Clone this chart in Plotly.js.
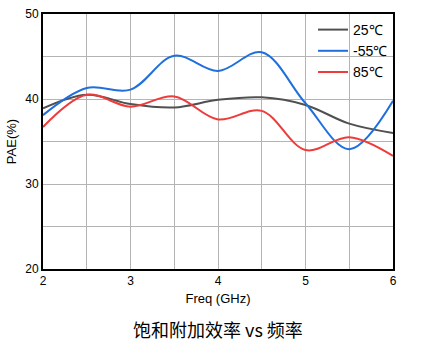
<!DOCTYPE html>
<html><head><meta charset="utf-8">
<script src="https://cdn.plot.ly/plotly-3.0.1.min.js"></script>
<style>body{margin:0;background:#fff}#c{width:425px;height:360px}</style>
</head><body><div id="c"></div>
<script>
const freq = [2, 2.5, 3, 3.5, 4, 4.5, 5, 5.5, 6];
const pae25 = [38.9, 40.5, 39.4, 39.0, 39.9, 40.2, 39.3, 37.1, 36.0];
const paeM55 = [38.1, 41.3, 41.1, 45.1, 43.3, 45.5, 39.5, 34.1, 39.8];
const pae85 = [36.7, 40.5, 39.1, 40.3, 37.6, 38.6, 34.0, 35.5, 33.3];
const names = ["25℃", "-55℃", "85℃"];
const colors = ["#505050", "#1f6fdc", "#ee3b3b"];
const series = [pae25, paeM55, pae85];
const traces = series.map((y, i) => ({
  x: freq, y: y, name: names[i], mode: "lines", type: "scatter",
  line: {color: colors[i], width: 2, shape: "spline", smoothing: 1}
}));
const ax = {showline: true, linecolor: "#000", linewidth: 2, mirror: true,
  gridcolor: "#b4b4b4", gridwidth: 1, zeroline: false, ticks: "",
  tickfont: {family: "Liberation Sans, Arial", size: 12, color: "#000"}};
const layout = {
  width: 425, height: 360, paper_bgcolor: "#fff", plot_bgcolor: "#fff",
  margin: {l: 43, r: 32, t: 14, b: 91},
  font: {family: "Liberation Sans, Arial", color: "#000"},
  showlegend: true,
  legend: {x: 1.0, y: 1.0, xanchor: "right", yanchor: "top", bgcolor: "rgba(0,0,0,0)",
    font: {size: 14, family: "Liberation Sans, Arial"}, tracegroupgap: 0, itemwidth: 30},
  xaxis: Object.assign({}, ax, {range: [2, 6], tickvals: [2, 3, 4, 5, 6],
    minor: {dtick: 0.5, showgrid: true, gridcolor: "#b4b4b4"}, dtick: 1,
    title: {text: "Freq (GHz)", font: {size: 13}, standoff: 6}}),
  yaxis: Object.assign({}, ax, {range: [20, 50], dtick: 10,
    minor: {dtick: 5, showgrid: true, gridcolor: "#b4b4b4"},
    title: {text: "PAE(%)", font: {size: 13}, standoff: 6}}),
  annotations: [{text: "饱和附加效率 vs 频率", xref: "paper", yref: "paper", x: 0.5, y: -0.175,
    xanchor: "center", yanchor: "top", showarrow: false,
    font: {size: 18, family: "Noto Sans CJK SC", color: "#000"}}]
};
Plotly.newPlot("c", traces, layout, {staticPlot: true});
</script></body></html>
